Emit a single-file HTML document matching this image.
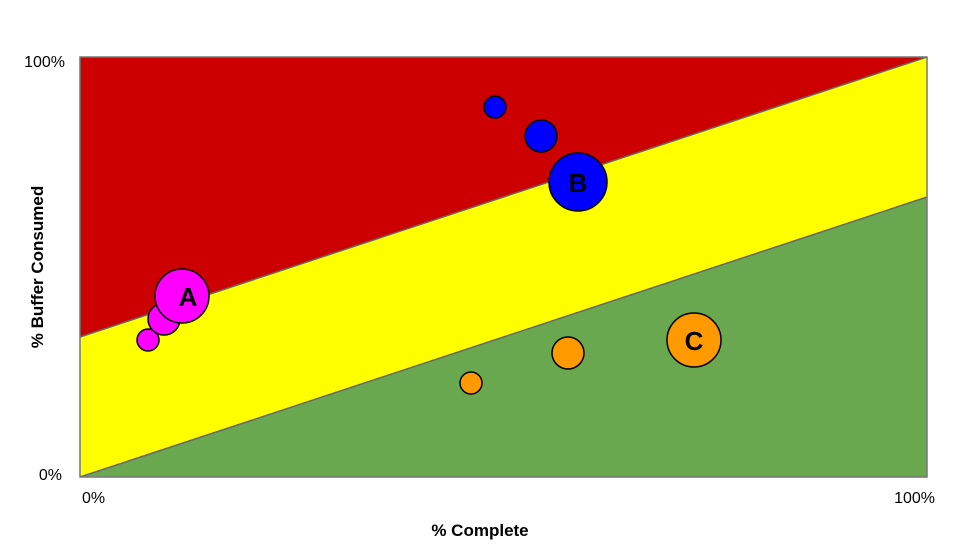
<!DOCTYPE html>
<html><head><meta charset="utf-8"><style>
html,body{margin:0;padding:0;background:#fff;}
svg{display:block;font-family:"Liberation Sans",sans-serif;}
</style></head><body>
<svg width="959" height="555" viewBox="0 0 959 555" xmlns="http://www.w3.org/2000/svg">
<rect x="80" y="57" width="847" height="420" fill="#ffff00"/>
<polygon points="80,57 927,57 80,337" fill="#cc0000"/>
<polygon points="80,477 927,197 927,477" fill="#6aa84f"/>
<line x1="80" y1="337" x2="927" y2="57" stroke="#666" stroke-width="1.5"/>
<line x1="80" y1="477" x2="927" y2="197" stroke="#666" stroke-width="1.5"/>
<rect x="80" y="57" width="847" height="420" fill="none" stroke="#777" stroke-width="1.5"/>
<g stroke="#000" stroke-width="1.5">
<circle cx="148" cy="340" r="11" fill="#ff00ff"/>
<circle cx="164" cy="319" r="16" fill="#ff00ff"/>
<circle cx="182" cy="296" r="27" fill="#ff00ff"/>
<circle cx="495" cy="107" r="11" fill="#0000ff"/>
<circle cx="541" cy="136" r="16" fill="#0000ff"/>
<circle cx="578" cy="182" r="29" fill="#0000ff"/>
<circle cx="471" cy="383" r="11" fill="#ff9900"/>
<circle cx="568" cy="353" r="16" fill="#ff9900"/>
<circle cx="694" cy="340" r="27" fill="#ff9900"/>
</g>
<g font-size="26" font-weight="bold" text-anchor="middle" fill="#000">
<text x="188" y="306">A</text>
<text x="578" y="192">B</text>
<text x="694" y="350">C</text>
</g>
<g font-size="16" fill="#000">
<text x="65" y="67" text-anchor="end">100%</text>
<text x="62" y="480" text-anchor="end">0%</text>
<text x="82" y="503">0%</text>
<text x="935" y="503" text-anchor="end">100%</text>
</g>
<text x="480" y="536" font-size="17" font-weight="bold" text-anchor="middle">% Complete</text>
<text transform="translate(43,267) rotate(-90)" font-size="17" font-weight="bold" text-anchor="middle">% Buffer Consumed</text>
</svg>
</body></html>
